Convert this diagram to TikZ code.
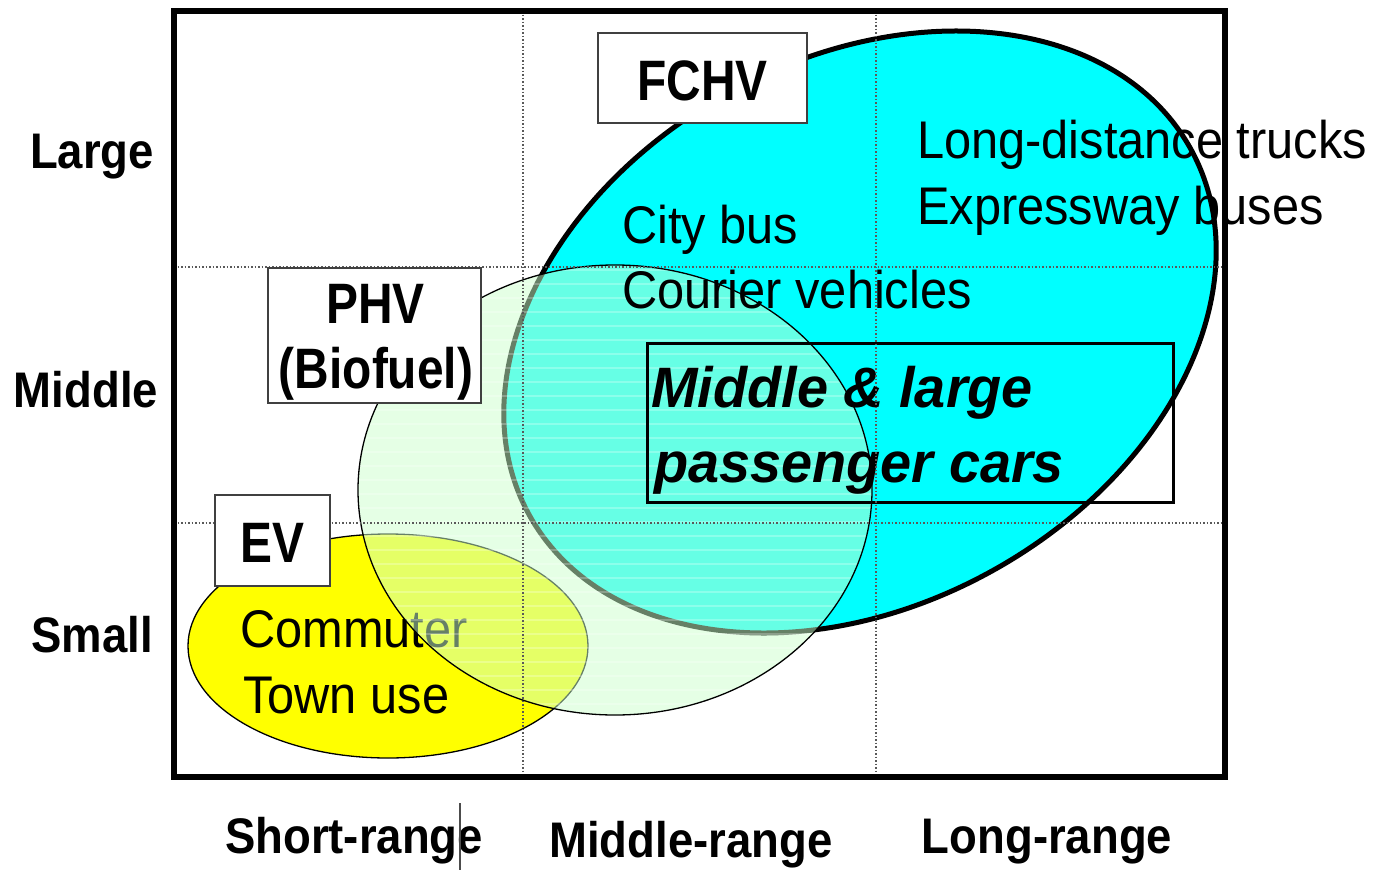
\documentclass[tikz,border=0pt]{standalone}
\usepackage{fontspec}
\setmainfont{Liberation Sans}
\newfontfamily\regf{Liberation Sans}[FakeStretch=0.92]
\newfontfamily\axf{Liberation Sans}[FakeStretch=0.91]
\newfontfamily\lblf{Liberation Sans}[FakeStretch=0.84]
\newfontfamily\bif{Liberation Sans}[FakeStretch=0.98]
\definecolor{fchvc}{RGB}{0,255,255}
\definecolor{evc}{RGB}{255,255,0}
\definecolor{phvc}{RGB}{205,255,205}
\begin{document}
\begin{tikzpicture}[x=1pt,y=1pt,
  txt/.style={inner sep=0pt, anchor=base west, font=\regf\fontsize{53}{60}\selectfont},
  axl/.style={inner sep=0pt, anchor=base, font=\axf\bfseries\fontsize{50}{56}\selectfont},
  lblbox/.style={draw=black!75, line width=1.8pt, fill=white, inner sep=0pt},
  lbltxt/.style={inner sep=0pt, anchor=base, font=\lblf\bfseries\fontsize{57}{62}\selectfont},
  bitxt/.style={inner sep=0pt, anchor=base west, font=\bif\bfseries\itshape\fontsize{57}{62}\selectfont},
  gridln/.style={draw=black!65, line width=1.4pt, dash pattern=on 1.5pt off 2pt},
]
\useasboundingbox (0,0) rectangle (1374,-870);
\fill[white] (0,0) rectangle (1374,-870);

% EV ellipse
\path[fill=evc, draw=black, line width=1.3pt] (388,-646) ellipse [x radius=200, y radius=112];
\node[txt] (cm) at (240,-647) {Commuter};
\node[txt] (tu) at (243,-713) {Town use};

% FCHV ellipse
\fill[fchvc, rotate around={29:(860,-332)}] (860,-332) ellipse [x radius=378, y radius=273];
\node[txt] (ld) at (917,-158) {Long-distance trucks};
\node[txt] (eb) at (917,-224) {Expressway buses};
\draw[line width=5pt, rotate around={29:(860,-332)}] (860,-332) ellipse [x radius=378, y radius=273];

% PHV ellipse (translucent)
\fill[phvc, fill opacity=0.5] (615,-490) ellipse [x radius=257, y radius=225];
\begin{scope}
  \clip (615,-490) ellipse [x radius=257, y radius=225];
  \foreach \yy in {270,284,...,716} \draw[white, opacity=0.25, line width=1.5pt] (350,-\yy) -- (880,-\yy);
\end{scope}

\node[txt] (cb) at (622,-243) {City bus};
\node[txt] (cv) at (622,-308) {Courier vehicles};
\node[draw=black, line width=3pt, minimum width=526, minimum height=159, inner sep=0pt] (mlbox) at (910,-422.5) {};
\node[bitxt] (ml1) at (651,-407) {Middle \& large};
\node[bitxt] (ml2) at (654,-482) {passenger cars};

\draw[black, line width=1.3pt] (615,-490) ellipse [x radius=257, y radius=225];

% grid
\draw[gridln] (523,-11) -- (523,-777);
\draw[gridln] (876,-11) -- (876,-777);
\draw[gridln] (174,-267) -- (1225,-267);
\draw[gridln] (174,-523) -- (1225,-523);

% label boxes
\node[lblbox, minimum width=209, minimum height=90] (fchvbox) at (702.5,-78) {};
\node[lbltxt] (fchvt) at (702.5,-100) {FCHV};
\node[lblbox, minimum width=213, minimum height=135] (phvbox) at (374.5,-335.5) {};
\node[lbltxt] (phvt) at (375.5,-323) {PHV};
\node[lbltxt] (biot) at (376,-388) {(Biofuel)};
\node[lblbox, minimum width=115, minimum height=91] (evbox) at (272.5,-540.5) {};
\node[lbltxt] (evt) at (272,-562) {EV};

% frame
\draw[line width=6pt] (174,-11) rectangle (1225,-777);

% axis labels
\node[axl] (large) at (92,-168) {Large};
\node[axl] (middle) at (86,-407) {Middle};
\node[axl] (small) at (92,-652) {Small};
\node[axl] (short) at (354,-853) {Short-range};
\node[axl] (midr) at (691,-857) {Middle-range};
\node[axl] (longr) at (1047,-853) {Long-range};

\coordinate (cur1) at (460,-803);
\coordinate (cur2) at (460,-870);
\draw[black!70, line width=1.2pt] (cur1) -- (cur2);
\end{tikzpicture}
\end{document}
